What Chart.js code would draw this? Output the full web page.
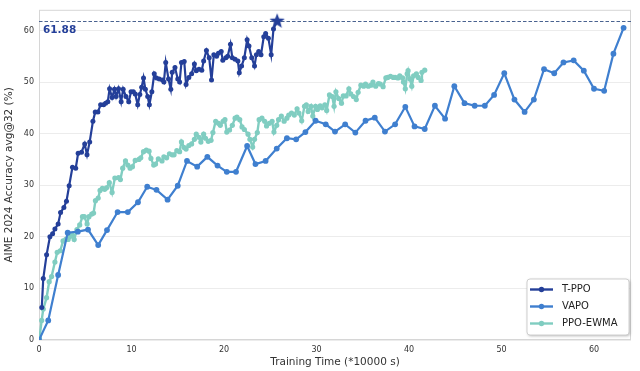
<!DOCTYPE html>
<html>
<head>
<meta charset="utf-8">
<script src="https://cdn.jsdelivr.net/npm/chart.js@4.4.1/dist/chart.umd.min.js"></script>
<style>
  html, body { margin: 0; padding: 0; background: #fff; }
  #wrap { width: 640px; height: 371px; }
</style>
</head>
<body>
<div id="wrap"><canvas id="chart" width="640" height="371"></canvas></div>
<script>
// datos
const tppoX = [0.3,0.46,0.82,1.18,1.47,1.72,2.07,2.33,2.69,2.97,3.26,3.62,3.97,4.23,4.6,4.94,5.19,5.48,5.83,6.08,6.37,6.66,6.98,7.2,7.44,7.63,7.9,8.16,8.34,8.6,8.88,9.1,9.4,9.7,9.95,10.2,10.4,10.67,10.9,11.1,11.3,11.5,11.75,11.93,12.2,12.46,12.7,13.0,13.35,13.5,13.7,14.0,14.25,14.4,14.7,15.0,15.2,15.4,15.7,15.9,16.2,16.5,16.8,17.0,17.3,17.6,17.8,18.1,18.4,18.65,18.9,19.2,19.4,19.7,19.87,20.2,20.4,20.7,20.9,21.2,21.5,21.65,21.9,22.2,22.5,22.7,23.0,23.3,23.5,23.75,24.0,24.3,24.5,24.8,25.1,25.35,25.75];
const tppoY = [6.3,11.9,16.5,20.0,20.6,21.5,22.5,24.7,25.7,26.9,29.9,33.5,33.3,36.2,36.4,38.0,35.9,38.4,42.4,44.2,44.2,45.6,45.6,45.9,46.2,48.7,47.0,48.6,47.2,48.7,46.2,48.6,47.2,46.2,48.1,48.1,47.7,45.6,47.6,49.0,50.8,48.6,47.2,45.6,48.1,51.6,50.8,50.6,50.4,50.0,53.8,50.6,48.6,51.9,52.8,50.6,50.0,53.8,54.0,49.5,50.9,51.6,53.5,52.2,52.5,52.3,54.1,56.1,54.7,50.4,55.3,55.0,55.6,55.9,54.2,54.7,55.0,57.3,54.7,54.4,54.1,51.8,53.1,54.7,58.2,57.0,54.7,53.1,55.3,55.9,55.3,58.8,59.4,58.5,55.3,60.3,61.88];

const vapoX = [0,1.0,2.07,3.1,4.2,5.3,6.4,7.35,8.5,9.6,10.7,11.7,12.7,13.9,15.0,16.0,17.1,18.2,19.3,20.3,21.3,22.5,23.4,24.5,25.7,26.8,27.8,28.8,29.9,31.0,32.0,33.1,34.2,35.3,36.3,37.4,38.5,39.6,40.6,41.7,42.8,43.9,44.9,46.0,47.1,48.2,49.2,50.3,51.4,52.5,53.5,54.6,55.7,56.7,57.8,58.9,60.0,61.1,62.1,63.2];
const vapoY = [0,3.8,12.6,20.8,21.0,21.4,18.4,21.3,24.8,24.8,26.7,29.7,29.1,27.2,29.9,34.7,33.6,35.5,33.8,32.6,32.6,37.6,34.1,34.7,37.1,39.1,38.9,40.3,42.5,41.8,40.4,41.8,40.2,42.5,43.1,40.4,41.8,45.2,41.4,40.9,45.4,42.9,49.2,45.9,45.4,45.4,47.5,51.7,46.6,44.2,46.6,52.5,51.7,53.8,54.2,52.2,48.7,48.3,55.5,60.5];

const ewmaX = [0.05,0.29,0.46,0.82,1.1,1.36,1.72,1.97,2.3,2.6,2.9,3.15,3.4,3.6,3.8,4.1,4.4,4.7,4.9,5.2,5.4,5.7,5.9,6.1,6.4,6.6,6.85,7.1,7.3,7.6,7.9,8.2,8.6,8.8,9.05,9.35,9.6,9.85,10.1,10.4,10.8,11.0,11.3,11.6,11.9,12.1,12.4,12.6,12.9,13.3,13.5,13.8,14.1,14.4,14.6,14.9,15.2,15.4,15.7,15.9,16.2,16.5,16.8,17.0,17.3,17.5,17.8,18.0,18.3,18.6,18.8,19.1,19.4,19.6,19.9,20.1,20.3,20.6,20.9,21.2,21.4,21.7,21.95,22.2,22.6,22.8,23.1,23.3,23.6,23.8,24.1,24.4,24.6,24.9,25.2,25.4,25.7,25.9,26.2,26.5,26.8,27.0,27.3,27.6,27.9,28.1,28.4,28.7,28.9,29.1,29.4,29.6,29.9,30.1,30.4,30.6,30.9,31.1,31.4,31.7,31.9,32.1,32.4,32.7,32.9,33.2,33.5,33.7,34.0,34.3,34.5,34.8,35.1,35.3,35.6,35.9,36.1,36.4,36.7,36.9,37.2,37.5,37.7,38.0,38.3,38.5,38.8,39.0,39.3,39.4,39.6,39.8,39.9,40.1,40.3,40.5,40.8,41.0,41.3,41.4,41.7];
const ewmaY = [0.4,3.8,6.0,8.2,11.3,12.3,15.1,17.0,17.3,19.2,19.5,19.5,20.1,20.4,19.5,21.4,22.3,23.9,23.9,22.5,23.9,24.4,24.6,27.0,27.5,29.0,29.4,29.2,29.5,30.5,28.6,31.4,31.5,31.1,33.3,34.7,33.9,33.3,33.6,34.8,35.0,35.3,36.5,36.8,36.6,35.2,33.9,34.1,35.1,34.7,35.5,35.3,36.1,35.9,35.9,36.7,36.5,38.4,37.3,37.0,37.7,38.0,38.9,39.9,39.3,38.4,39.9,39.1,38.5,38.7,40.2,42.4,42.0,41.6,42.4,42.7,40.3,40.7,41.6,43.0,43.2,42.7,41.3,40.8,39.9,38.9,37.4,38.9,40.2,42.7,43.0,42.4,41.5,42.0,42.4,40.3,41.6,42.7,43.4,42.4,43.0,43.6,44.0,43.6,44.8,44.0,42.5,45.3,45.6,44.3,45.3,43.4,45.3,44.7,45.4,45.0,45.6,44.5,47.5,47.2,45.3,48.1,46.8,45.9,47.3,47.3,48.7,47.7,47.2,46.6,48.0,49.4,49.2,49.6,49.2,49.4,50.0,49.2,49.7,49.6,49.1,50.8,50.9,51.1,50.9,50.9,50.8,51.2,50.8,50.0,48.7,51.6,52.2,50.6,49.2,51.2,51.6,50.9,50.3,51.9,52.3];

const seriesNames = ['T-PPO', 'VAPO', 'PPO-EWMA'];
const bestValue = 61.88;
const xTicks = [0, 10, 20, 30, 40, 50, 60];
const yTicks = [0, 10, 20, 30, 40, 50, 60];

const FONT = "'DejaVu Sans', sans-serif";
const colores = ['#243f99', '#3f7fcf', '#80cdc1'];

function pares(xs, ys) {
  return xs.map(function (x, i) { return { x: x, y: ys[i] }; });
}

// estrella rellena para el mejor punto
const estrella = document.createElement('canvas');
estrella.width = 18; estrella.height = 18;
(function () {
  const c = estrella.getContext('2d');
  c.fillStyle = colores[0];
  c.beginPath();
  for (let i = 0; i < 10; i++) {
    const r = i % 2 === 0 ? 8 : 3.4;
    const a = -Math.PI / 2 + i * Math.PI / 5;
    const px = 9 + r * Math.cos(a), py = 9.5 + r * Math.sin(a);
    if (i === 0) c.moveTo(px, py); else c.lineTo(px, py);
  }
  c.closePath();
  c.fill();
})();

// marco, linea punteada y leyenda
const extras = {
  id: 'extras',
  beforeDatasetsDraw(chart) {
    const { ctx, chartArea: a, scales } = chart;
    ctx.save();
    ctx.strokeStyle = '#d6d6d6';
    ctx.lineWidth = 1;
    ctx.strokeRect(a.left + 0.5, a.top + 0.5, a.right - a.left - 1, a.bottom - a.top - 1);
    const yb = Math.round(scales.y.getPixelForValue(bestValue)) + 0.5;
    ctx.strokeStyle = '#4a6390';
    ctx.setLineDash([3.5, 2]);
    ctx.beginPath();
    ctx.moveTo(a.left, yb);
    ctx.lineTo(a.right, yb);
    ctx.stroke();
    ctx.setLineDash([]);
    ctx.fillStyle = colores[0];
    ctx.font = 'bold 10.5px ' + FONT;
    ctx.textBaseline = 'middle';
    ctx.textAlign = 'left';
    ctx.fillText(bestValue.toFixed(2), a.left + 4, yb + 8.5);
    ctx.restore();
  },
  afterDraw(chart) {
    const { ctx, chartArea: a } = chart;
    const w = 102, h = 56;
    const x0 = a.right - w - 2, y0 = a.bottom - h - 5;
    ctx.save();
    ctx.shadowColor = 'rgba(0,0,0,0.3)';
    ctx.shadowBlur = 3;
    ctx.shadowOffsetX = 1;
    ctx.shadowOffsetY = 1;
    ctx.fillStyle = '#fff';
    ctx.beginPath();
    ctx.roundRect(x0, y0, w, h, 3);
    ctx.fill();
    ctx.shadowColor = 'transparent';
    ctx.strokeStyle = '#cfcfcf';
    ctx.lineWidth = 1;
    ctx.stroke();
    ctx.font = '10px ' + FONT;
    ctx.textBaseline = 'middle';
    seriesNames.forEach(function (n, i) {
      const yy = y0 + 10.5 + i * 17;
      ctx.strokeStyle = colores[i];
      ctx.lineWidth = 2.4;
      ctx.beginPath();
      ctx.moveTo(x0 + 3, yy);
      ctx.lineTo(x0 + 26, yy);
      ctx.stroke();
      ctx.fillStyle = colores[i];
      ctx.beginPath();
      ctx.arc(x0 + 14.5, yy, 2.7, 0, Math.PI * 2);
      ctx.fill();
      ctx.fillStyle = '#222';
      ctx.fillText(n, x0 + 35, yy);
    });
    ctx.restore();
  }
};

const ctx = document.getElementById('chart').getContext('2d');
new Chart(ctx, {
  type: 'line',
  data: {
    datasets: [
      {
        label: seriesNames[0],
        data: pares(tppoX, tppoY),
        borderColor: colores[0],
        backgroundColor: colores[0],
        borderWidth: 2.2,
        pointRadius: function (c) { return c.dataIndex === tppoX.length - 1 ? 9 : 2.5; },
        pointStyle: function (c) { return c.dataIndex === tppoX.length - 1 ? estrella : 'circle'; },
        pointBorderWidth: 0
      },
      {
        label: seriesNames[1],
        data: pares(vapoX, vapoY),
        borderColor: colores[1],
        backgroundColor: colores[1],
        borderWidth: 2.2,
        pointRadius: 2.9,
        pointBorderWidth: 0
      },
      {
        label: seriesNames[2],
        data: pares(ewmaX, ewmaY),
        borderColor: colores[2],
        backgroundColor: colores[2],
        borderWidth: 2.4,
        pointRadius: 2.6,
        pointBorderWidth: 0
      }
    ]
  },
  options: {
    responsive: false,
    animation: false,
    layout: { padding: { top: 2, right: 6, left: 0, bottom: 0 } },
    elements: { line: { tension: 0 } },
    plugins: {
      legend: { display: false },
      tooltip: { enabled: false }
    },
    scales: {
      x: {
        type: 'linear',
        min: 0,
        max: 64,
        afterBuildTicks: function (s) { s.ticks = xTicks.map(function (v) { return { value: v }; }); },
        afterFit: function (s) { s.height = 31; },
        grid: { display: false, drawTicks: false },
        border: { display: false },
        ticks: { padding: 5, color: '#333', font: { family: FONT, size: 8 } },
        title: {
          display: true,
          text: 'Training Time (*10000 s)',
          color: '#333',
          padding: { top: 0, bottom: 2 },
          font: { family: FONT, size: 10.5 }
        }
      },
      y: {
        min: 0,
        max: 64,
        afterBuildTicks: function (s) { s.ticks = yTicks.map(function (v) { return { value: v }; }); },
        afterFit: function (s) { s.width = 39; },
        grid: { color: '#ececec', lineWidth: 1, drawTicks: false },
        border: { display: false },
        ticks: { padding: 5, color: '#333', font: { family: FONT, size: 8 } },
        title: {
          display: true,
          text: 'AIME 2024 Accuracy avg@32 (%)',
          color: '#333',
          padding: { top: 3, bottom: 0 },
          font: { family: FONT, size: 10.5 }
        }
      }
    }
  },
  plugins: [extras]
});
</script>
</body>
</html>
